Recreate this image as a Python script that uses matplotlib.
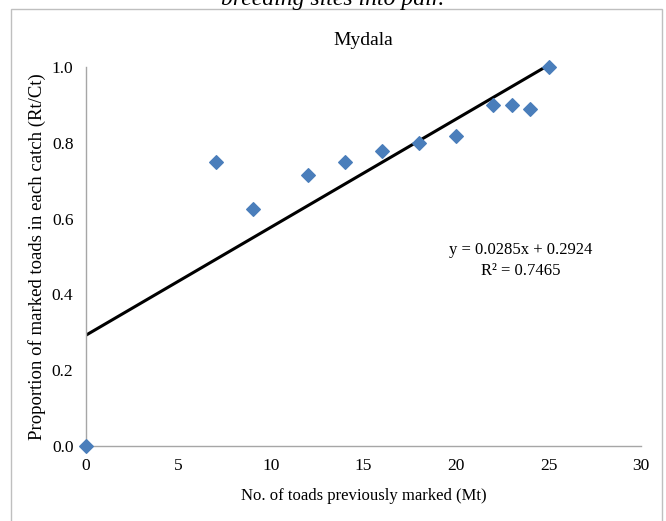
import numpy as np
import matplotlib
matplotlib.use("Agg")
import matplotlib.pyplot as plt
from matplotlib.patches import Rectangle

# Data
marked_before = [0, 7, 9, 12, 14, 16, 18, 20, 22, 23, 24, 25]
prop_marked = [0.0, 0.75, 0.625, 0.714, 0.75, 0.778, 0.80, 0.818, 0.90, 0.90, 0.889, 1.0]
slope, intercept = 0.0285, 0.2924
r_squared = 0.7465
x_ticks = [0, 5, 10, 15, 20, 25, 30]
y_ticks = [0.0, 0.2, 0.4, 0.6, 0.8, 1.0]

plt.rcParams['font.family'] = ['Liberation Serif', 'DejaVu Serif']

fig = plt.figure(figsize=(6.66, 5.21), dpi=100)

# chart frame
fig.patches.append(Rectangle((11 / 666, -0.02), (662 - 11) / 666, 1 - 9 / 521 + 0.02,
                             transform=fig.transFigure, fill=False,
                             edgecolor='#bfbfbf', linewidth=1.0))

# clipped caption text from the page above the chart
fig.text(0.5, 1.0, "breeding sites into pair.", ha='center', va='center',
         fontsize=17, style='italic')

ax = fig.add_axes([86 / 666, 1 - 446 / 521, 555 / 666, (446 - 67) / 521])

xs = np.array([0, 25])
ax.plot(xs, slope * xs + intercept, color='black', linewidth=2.2, zorder=2)
ax.scatter(marked_before, prop_marked, marker='D', s=48, color='#4a7ebb',
           zorder=3, clip_on=False)

ax.set_xlim(0, 30)
ax.set_ylim(0, 1.0)
ax.set_xticks(x_ticks)
ax.set_yticks(y_ticks)
ax.set_yticklabels([f"{v:.1f}" for v in y_ticks])
ax.tick_params(length=0, labelsize=12.5, pad=9)

for side in ['top', 'right']:
    ax.spines[side].set_visible(False)
for side in ['left', 'bottom']:
    ax.spines[side].set_color('#a6a6a6')
    ax.spines[side].set_linewidth(1.0)

ax.set_title("Mydala", fontsize=14, pad=16)
ax.set_xlabel("No. of toads previously marked (Mt)", fontsize=12, labelpad=10)
ax.set_ylabel("Proportion of marked toads in each catch (Rt/Ct)", fontsize=13.5, labelpad=4)

ax.text(23.5, 0.49, f"y = {slope}x + {intercept}\nR² = {r_squared}", ha='center',
        va='center', fontsize=12, linespacing=1.4)

fig.savefig("out.png", dpi=100)
